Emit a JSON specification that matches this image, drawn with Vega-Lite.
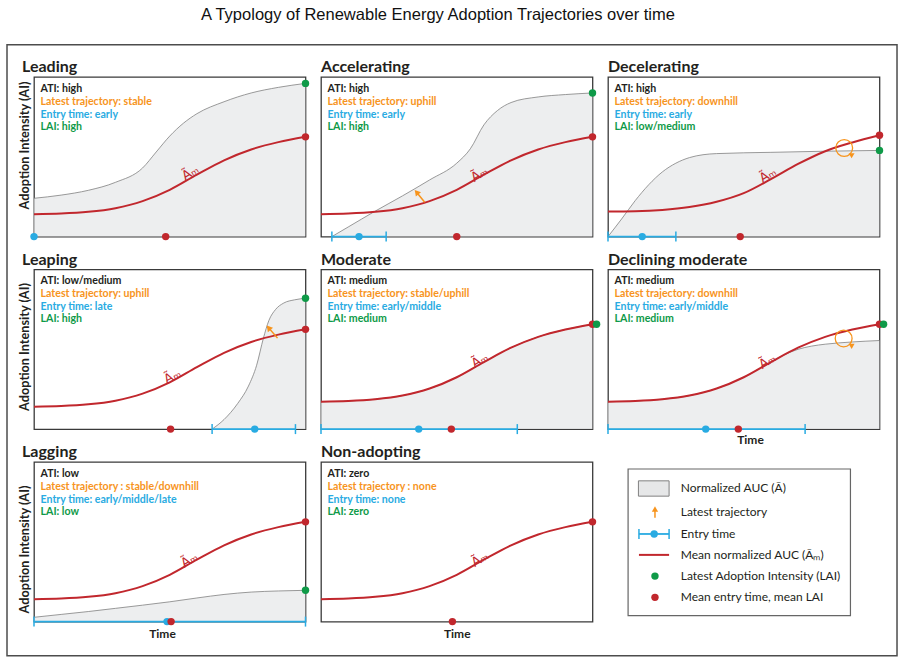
{
"$schema":"https://vega.github.io/schema/vega-lite/v6.json",
"background":"white",
"padding":{"left":6,"top":6,"right":5,"bottom":3},
"title":{"text":"A Typology of Renewable Energy Adoption Trajectories over time","anchor":"middle","font":"Liberation Sans","fontSize":16.5,"fontWeight":"normal","color":"#111111","offset":21,"dx":-14},
"columns":3,
"bounds":"flush",
"spacing":{"row":32.5,"column":15},
"datasets":{
"mean":[
{"p":"LD","x":0,"y":0.14},{"p":"LD","x":0.1,"y":0.144},{"p":"LD","x":0.2,"y":0.155},{"p":"LD","x":0.3,"y":0.178},{"p":"LD","x":0.4,"y":0.222},{"p":"LD","x":0.5,"y":0.293},{"p":"LD","x":0.6,"y":0.388},{"p":"LD","x":0.7,"y":0.478},{"p":"LD","x":0.8,"y":0.546},{"p":"LD","x":0.9,"y":0.592},{"p":"LD","x":1,"y":0.625},
{"p":"AC","x":0,"y":0.14},{"p":"AC","x":0.1,"y":0.144},{"p":"AC","x":0.2,"y":0.155},{"p":"AC","x":0.3,"y":0.178},{"p":"AC","x":0.4,"y":0.222},{"p":"AC","x":0.5,"y":0.293},{"p":"AC","x":0.6,"y":0.388},{"p":"AC","x":0.7,"y":0.478},{"p":"AC","x":0.8,"y":0.546},{"p":"AC","x":0.9,"y":0.592},{"p":"AC","x":1,"y":0.625},
{"p":"DC","x":0,"y":0.157},{"p":"DC","x":0.1,"y":0.159},{"p":"DC","x":0.2,"y":0.167},{"p":"DC","x":0.3,"y":0.185},{"p":"DC","x":0.4,"y":0.218},{"p":"DC","x":0.5,"y":0.272},{"p":"DC","x":0.6,"y":0.36},{"p":"DC","x":0.7,"y":0.455},{"p":"DC","x":0.8,"y":0.535},{"p":"DC","x":0.9,"y":0.59},{"p":"DC","x":1,"y":0.635},
{"p":"LP","x":0,"y":0.14},{"p":"LP","x":0.1,"y":0.144},{"p":"LP","x":0.2,"y":0.155},{"p":"LP","x":0.3,"y":0.178},{"p":"LP","x":0.4,"y":0.222},{"p":"LP","x":0.5,"y":0.293},{"p":"LP","x":0.6,"y":0.388},{"p":"LP","x":0.7,"y":0.478},{"p":"LP","x":0.8,"y":0.546},{"p":"LP","x":0.9,"y":0.592},{"p":"LP","x":1,"y":0.625},
{"p":"MO","x":0,"y":0.172},{"p":"MO","x":0.1,"y":0.176},{"p":"MO","x":0.2,"y":0.187},{"p":"MO","x":0.3,"y":0.21},{"p":"MO","x":0.4,"y":0.254},{"p":"MO","x":0.5,"y":0.325},{"p":"MO","x":0.6,"y":0.42},{"p":"MO","x":0.7,"y":0.51},{"p":"MO","x":0.8,"y":0.578},{"p":"MO","x":0.9,"y":0.624},{"p":"MO","x":1,"y":0.657},
{"p":"DM","x":0,"y":0.172},{"p":"DM","x":0.1,"y":0.176},{"p":"DM","x":0.2,"y":0.187},{"p":"DM","x":0.3,"y":0.21},{"p":"DM","x":0.4,"y":0.254},{"p":"DM","x":0.5,"y":0.325},{"p":"DM","x":0.6,"y":0.42},{"p":"DM","x":0.7,"y":0.51},{"p":"DM","x":0.8,"y":0.578},{"p":"DM","x":0.9,"y":0.624},{"p":"DM","x":1,"y":0.657},
{"p":"LG","x":0,"y":0.14},{"p":"LG","x":0.1,"y":0.144},{"p":"LG","x":0.2,"y":0.155},{"p":"LG","x":0.3,"y":0.178},{"p":"LG","x":0.4,"y":0.222},{"p":"LG","x":0.5,"y":0.293},{"p":"LG","x":0.6,"y":0.388},{"p":"LG","x":0.7,"y":0.478},{"p":"LG","x":0.8,"y":0.546},{"p":"LG","x":0.9,"y":0.592},{"p":"LG","x":1,"y":0.625},
{"p":"NA","x":0,"y":0.14},{"p":"NA","x":0.1,"y":0.144},{"p":"NA","x":0.2,"y":0.155},{"p":"NA","x":0.3,"y":0.178},{"p":"NA","x":0.4,"y":0.222},{"p":"NA","x":0.5,"y":0.293},{"p":"NA","x":0.6,"y":0.388},{"p":"NA","x":0.7,"y":0.478},{"p":"NA","x":0.8,"y":0.546},{"p":"NA","x":0.9,"y":0.592},{"p":"NA","x":1,"y":0.625}
],
"auc":[
{"p":"LD","x":0,"y":0.24},{"p":"LD","x":0.1,"y":0.26},{"p":"LD","x":0.2,"y":0.29},{"p":"LD","x":0.3,"y":0.34},{"p":"LD","x":0.4,"y":0.43},{"p":"LD","x":0.45,"y":0.53},{"p":"LD","x":0.5,"y":0.63},{"p":"LD","x":0.55,"y":0.71},{"p":"LD","x":0.6,"y":0.77},{"p":"LD","x":0.7,"y":0.845},{"p":"LD","x":0.8,"y":0.9},{"p":"LD","x":0.9,"y":0.935},{"p":"LD","x":1,"y":0.96},
{"p":"AC","x":0.04,"y":0},{"p":"AC","x":0.1,"y":0.06},{"p":"AC","x":0.2,"y":0.16},{"p":"AC","x":0.3,"y":0.255},{"p":"AC","x":0.4,"y":0.355},{"p":"AC","x":0.5,"y":0.46},{"p":"AC","x":0.55,"y":0.55},{"p":"AC","x":0.6,"y":0.7},{"p":"AC","x":0.65,"y":0.79},{"p":"AC","x":0.7,"y":0.84},{"p":"AC","x":0.8,"y":0.875},{"p":"AC","x":0.9,"y":0.89},{"p":"AC","x":1,"y":0.9},
{"p":"DC","x":0,"y":0},{"p":"DC","x":0.05,"y":0.11},{"p":"DC","x":0.1,"y":0.225},{"p":"DC","x":0.15,"y":0.325},{"p":"DC","x":0.2,"y":0.405},{"p":"DC","x":0.25,"y":0.46},{"p":"DC","x":0.3,"y":0.495},{"p":"DC","x":0.35,"y":0.513},{"p":"DC","x":0.4,"y":0.52},{"p":"DC","x":0.6,"y":0.528},{"p":"DC","x":0.8,"y":0.535},{"p":"DC","x":1,"y":0.54},
{"p":"LP","x":0.656,"y":0},{"p":"LP","x":0.7,"y":0.06},{"p":"LP","x":0.75,"y":0.16},{"p":"LP","x":0.79,"y":0.27},{"p":"LP","x":0.82,"y":0.4},{"p":"LP","x":0.845,"y":0.57},{"p":"LP","x":0.865,"y":0.68},{"p":"LP","x":0.89,"y":0.75},{"p":"LP","x":0.92,"y":0.79},{"p":"LP","x":0.96,"y":0.81},{"p":"LP","x":1,"y":0.82},
{"p":"MO","x":0,"y":0.172},{"p":"MO","x":0.1,"y":0.176},{"p":"MO","x":0.2,"y":0.187},{"p":"MO","x":0.3,"y":0.21},{"p":"MO","x":0.4,"y":0.254},{"p":"MO","x":0.5,"y":0.325},{"p":"MO","x":0.6,"y":0.42},{"p":"MO","x":0.7,"y":0.51},{"p":"MO","x":0.8,"y":0.578},{"p":"MO","x":0.9,"y":0.624},{"p":"MO","x":1,"y":0.657},
{"p":"DM","x":0,"y":0.172},{"p":"DM","x":0.1,"y":0.176},{"p":"DM","x":0.2,"y":0.187},{"p":"DM","x":0.3,"y":0.21},{"p":"DM","x":0.4,"y":0.254},{"p":"DM","x":0.5,"y":0.325},{"p":"DM","x":0.6,"y":0.42},{"p":"DM","x":0.65,"y":0.466},{"p":"DM","x":0.7,"y":0.5},{"p":"DM","x":0.75,"y":0.52},{"p":"DM","x":0.8,"y":0.532},{"p":"DM","x":0.9,"y":0.546},{"p":"DM","x":1,"y":0.555},
{"p":"LG","x":0,"y":0.027},{"p":"LG","x":0.1,"y":0.045},{"p":"LG","x":0.2,"y":0.063},{"p":"LG","x":0.3,"y":0.083},{"p":"LG","x":0.4,"y":0.103},{"p":"LG","x":0.5,"y":0.124},{"p":"LG","x":0.6,"y":0.148},{"p":"LG","x":0.7,"y":0.17},{"p":"LG","x":0.8,"y":0.185},{"p":"LG","x":0.9,"y":0.192},{"p":"LG","x":1,"y":0.196}
],
"pts":[
{"p":"LD","k":"entry","x":0,"y":0},{"p":"LD","k":"mean","x":0.485,"y":0},{"p":"LD","k":"mean","x":1,"y":0.625},{"p":"LD","k":"LAI","x":1,"y":0.96},
{"p":"AC","k":"entry","x":0.14,"y":0},{"p":"AC","k":"mean","x":0.5,"y":0},{"p":"AC","k":"mean","x":1,"y":0.625},{"p":"AC","k":"LAI","x":1,"y":0.9},
{"p":"DC","k":"entry","x":0.126,"y":0},{"p":"DC","k":"mean","x":0.487,"y":0},{"p":"DC","k":"mean","x":1,"y":0.635},{"p":"DC","k":"LAI","x":1,"y":0.54},
{"p":"LP","k":"entry","x":0.813,"y":0},{"p":"LP","k":"mean","x":0.503,"y":0},{"p":"LP","k":"mean","x":1,"y":0.625},{"p":"LP","k":"LAI","x":1,"y":0.82},
{"p":"MO","k":"entry","x":0.36,"y":0},{"p":"MO","k":"mean","x":0.48,"y":0},{"p":"MO","k":"mean","x":1,"y":0.657},{"p":"MO","k":"LAI","x":1.015,"y":0.657},
{"p":"DM","k":"entry","x":0.36,"y":0},{"p":"DM","k":"mean","x":0.48,"y":0},{"p":"DM","k":"mean","x":1,"y":0.657},{"p":"DM","k":"LAI","x":1.015,"y":0.657},
{"p":"LG","k":"entry","x":0.49,"y":0},{"p":"LG","k":"mean","x":0.505,"y":0},{"p":"LG","k":"mean","x":1,"y":0.625},{"p":"LG","k":"LAI","x":1,"y":0.196},
{"p":"NA","k":"mean","x":0.484,"y":0},{"p":"NA","k":"mean","x":1,"y":0.625}
],
"entry":[
{"p":"AC","x":0.04,"x2":0.24,"y":0},{"p":"DC","x":0,"x2":0.25,"y":0},{"p":"LP","x":0.656,"x2":0.963,"y":0},{"p":"MO","x":0,"x2":0.723,"y":0},{"p":"DM","x":0,"x2":0.726,"y":0},{"p":"LG","x":0,"x2":1,"y":0}
],
"arrows":[{"p":"AC","x":0.382,"y":0.215,"x2":0.352,"y2":0.278},{"p":"LP","x":0.897,"y":0.57,"x2":0.864,"y2":0.635}],
"loops":[{"p":"DC","x":0.87,"y":0.555},{"p":"DM","x":0.868,"y":0.568}],
"heads":[{"p":"DC","x":0.9,"y":0.515},{"p":"DM","x":0.9,"y":0.526}],
"labels":[
{"p":"LD","x":0.576,"y":0.4},{"p":"AC","x":0.583,"y":0.39},{"p":"DC","x":0.589,"y":0.385},{"p":"LP","x":0.51,"y":0.33},{"p":"MO","x":0.585,"y":0.43},{"p":"DM","x":0.587,"y":0.425},{"p":"LG","x":0.572,"y":0.385},{"p":"NA","x":0.585,"y":0.39}
],
"ann":[
{"p":"LD","k":"ATI","t":"ATI: high","x":0.024,"y":0.925},{"p":"LD","k":"traj","t":"Latest trajectory: stable","x":0.024,"y":0.845},{"p":"LD","k":"entry","t":"Entry time: early","x":0.024,"y":0.765},{"p":"LD","k":"LAI","t":"LAI: high","x":0.024,"y":0.687},
{"p":"AC","k":"ATI","t":"ATI: high","x":0.024,"y":0.925},{"p":"AC","k":"traj","t":"Latest trajectory: uphill","x":0.024,"y":0.845},{"p":"AC","k":"entry","t":"Entry time: early","x":0.024,"y":0.765},{"p":"AC","k":"LAI","t":"LAI: high","x":0.024,"y":0.687},
{"p":"DC","k":"ATI","t":"ATI: high","x":0.024,"y":0.925},{"p":"DC","k":"traj","t":"Latest trajectory: downhill","x":0.024,"y":0.845},{"p":"DC","k":"entry","t":"Entry time: early","x":0.024,"y":0.765},{"p":"DC","k":"LAI","t":"LAI: low/medium","x":0.024,"y":0.687},
{"p":"LP","k":"ATI","t":"ATI: low/medium","x":0.024,"y":0.925},{"p":"LP","k":"traj","t":"Latest trajectory: uphill","x":0.024,"y":0.845},{"p":"LP","k":"entry","t":"Entry time: late","x":0.024,"y":0.765},{"p":"LP","k":"LAI","t":"LAI: high","x":0.024,"y":0.687},
{"p":"MO","k":"ATI","t":"ATI: medium","x":0.024,"y":0.925},{"p":"MO","k":"traj","t":"Latest trajectory: stable/uphill","x":0.024,"y":0.845},{"p":"MO","k":"entry","t":"Entry time: early/middle","x":0.024,"y":0.765},{"p":"MO","k":"LAI","t":"LAI: medium","x":0.024,"y":0.687},
{"p":"DM","k":"ATI","t":"ATI: medium","x":0.024,"y":0.925},{"p":"DM","k":"traj","t":"Latest trajectory: downhill","x":0.024,"y":0.845},{"p":"DM","k":"entry","t":"Entry time: early/middle","x":0.024,"y":0.765},{"p":"DM","k":"LAI","t":"LAI: medium","x":0.024,"y":0.687},
{"p":"LG","k":"ATI","t":"ATI: low","x":0.024,"y":0.925},{"p":"LG","k":"traj","t":"Latest trajectory : stable/downhill","x":0.024,"y":0.845},{"p":"LG","k":"entry","t":"Entry time: early/middle/late","x":0.024,"y":0.765},{"p":"LG","k":"LAI","t":"LAI: low","x":0.024,"y":0.687},
{"p":"NA","k":"ATI","t":"ATI: zero","x":0.024,"y":0.925},{"p":"NA","k":"traj","t":"Latest trajectory : none","x":0.024,"y":0.845},{"p":"NA","k":"entry","t":"Entry time: none","x":0.024,"y":0.765},{"p":"NA","k":"LAI","t":"LAI: zero","x":0.024,"y":0.687}
]
},
"config":{
"view":{"stroke":"#3a3a3a","strokeWidth":1.3},
"axis":{"domain":false,"ticks":false,"labels":false,"grid":false,"titleFont":"Lato","titleFontWeight":"bold","titleFontSize":12,"titleColor":"#231f20"},
"axisY":{"titlePadding":3,"titleFontSize":12.7},
"axisX":{"titlePadding":6},
"title":{"anchor":"start","font":"Lato","fontSize":16,"fontWeight":"bold","color":"#231f20","offset":2,"dx":4}
},
"concat":[
{"width":271.5,"height":159.6,"title":"Leading",
"encoding":{"x":{"field":"x","type":"quantitative","scale":{"domain":[0,1]},"axis":null},"y":{"field":"y","type":"quantitative","scale":{"domain":[0,1]},"axis":{"title":"Adoption Intensity (AI)","titleY":68}}},
"layer":[
{"data":{"name":"auc"},"transform":[{"filter":"datum.p=='LD'"}],"mark":{"type":"area","color":"#e6e7e8","interpolate":"monotone","line":{"color":"#808080","strokeWidth":0.8}}},
{"data":{"name":"mean"},"transform":[{"filter":"datum.p=='LD'"}],"mark":{"type":"line","color":"#c1272d","strokeWidth":2,"interpolate":"monotone"}},
{"data":{"name":"pts"},"transform":[{"filter":"datum.p=='LD'"}],"mark":{"type":"circle","size":55,"opacity":1},"encoding":{"color":{"field":"k","type":"nominal","scale":{"domain":["ATI","traj","entry","mean","LAI"],"range":["#231f20","#f7941d","#29abe2","#c1272d","#0f9a48"]},"legend":null}}},
{"data":{"name":"labels"},"transform":[{"filter":"datum.p=='LD'"}],"mark":{"type":"text","text":"Ãₘ","angle":328,"color":"#c1272d","fontSize":13,"font":"DejaVu Sans"}},
{"data":{"name":"ann"},"transform":[{"filter":"datum.p=='LD'"}],"mark":{"type":"text","align":"left","baseline":"middle","font":"Lato","fontWeight":"bold","fontSize":10.6},"encoding":{"text":{"field":"t"},"color":{"field":"k","type":"nominal","scale":{"domain":["ATI","traj","entry","mean","LAI"],"range":["#231f20","#f7941d","#29abe2","#c1272d","#0f9a48"]},"legend":null}}}
]},
{"width":271.5,"height":159.6,"title":"Accelerating",
"encoding":{"x":{"field":"x","type":"quantitative","scale":{"domain":[0,1]},"axis":null},"y":{"field":"y","type":"quantitative","scale":{"domain":[0,1]},"axis":null}},
"layer":[
{"data":{"name":"auc"},"transform":[{"filter":"datum.p=='AC'"}],"mark":{"type":"area","color":"#e6e7e8","interpolate":"monotone","line":{"color":"#808080","strokeWidth":0.8}}},
{"data":{"name":"mean"},"transform":[{"filter":"datum.p=='AC'"}],"mark":{"type":"line","color":"#c1272d","strokeWidth":2,"interpolate":"monotone"}},
{"data":{"name":"entry"},"transform":[{"filter":"datum.p=='AC'"}],"mark":{"type":"rule","color":"#29abe2","strokeWidth":1.8},"encoding":{"x2":{"field":"x2"}}},
{"data":{"name":"entry"},"transform":[{"filter":"datum.p=='AC'"}],"mark":{"type":"tick","orient":"vertical","color":"#29abe2","thickness":1.5,"size":10,"opacity":1}},
{"data":{"name":"entry"},"transform":[{"filter":"datum.p=='AC'"}],"mark":{"type":"tick","orient":"vertical","color":"#29abe2","thickness":1.5,"size":10,"opacity":1},"encoding":{"x":{"field":"x2","type":"quantitative","scale":{"domain":[0,1]},"axis":null}}},
{"data":{"name":"arrows"},"transform":[{"filter":"datum.p=='AC'"}],"mark":{"type":"rule","color":"#f7941d","strokeWidth":1.5},"encoding":{"x2":{"field":"x2"},"y2":{"field":"y2"}}},
{"data":{"name":"arrows"},"transform":[{"filter":"datum.p=='AC'"}],"mark":{"type":"point","shape":"triangle-up","filled":true,"color":"#f7941d","size":45,"angle":320,"opacity":1},"encoding":{"x":{"field":"x2","type":"quantitative","scale":{"domain":[0,1]},"axis":null},"y":{"field":"y2","type":"quantitative","scale":{"domain":[0,1]},"axis":null}}},
{"data":{"name":"pts"},"transform":[{"filter":"datum.p=='AC'"}],"mark":{"type":"circle","size":55,"opacity":1},"encoding":{"color":{"field":"k","type":"nominal","scale":{"domain":["ATI","traj","entry","mean","LAI"],"range":["#231f20","#f7941d","#29abe2","#c1272d","#0f9a48"]},"legend":null}}},
{"data":{"name":"labels"},"transform":[{"filter":"datum.p=='AC'"}],"mark":{"type":"text","text":"Ãₘ","angle":328,"color":"#c1272d","fontSize":13,"font":"DejaVu Sans"}},
{"data":{"name":"ann"},"transform":[{"filter":"datum.p=='AC'"}],"mark":{"type":"text","align":"left","baseline":"middle","font":"Lato","fontWeight":"bold","fontSize":10.6},"encoding":{"text":{"field":"t"},"color":{"field":"k","type":"nominal","scale":{"domain":["ATI","traj","entry","mean","LAI"],"range":["#231f20","#f7941d","#29abe2","#c1272d","#0f9a48"]},"legend":null}}}
]},
{"width":271.5,"height":159.6,"title":"Decelerating",
"encoding":{"x":{"field":"x","type":"quantitative","scale":{"domain":[0,1]},"axis":null},"y":{"field":"y","type":"quantitative","scale":{"domain":[0,1]},"axis":null}},
"layer":[
{"data":{"name":"auc"},"transform":[{"filter":"datum.p=='DC'"}],"mark":{"type":"area","color":"#e6e7e8","interpolate":"monotone","line":{"color":"#808080","strokeWidth":0.8}}},
{"data":{"name":"mean"},"transform":[{"filter":"datum.p=='DC'"}],"mark":{"type":"line","color":"#c1272d","strokeWidth":2,"interpolate":"monotone"}},
{"data":{"name":"entry"},"transform":[{"filter":"datum.p=='DC'"}],"mark":{"type":"rule","color":"#29abe2","strokeWidth":1.8},"encoding":{"x2":{"field":"x2"}}},
{"data":{"name":"entry"},"transform":[{"filter":"datum.p=='DC'"}],"mark":{"type":"tick","orient":"vertical","color":"#29abe2","thickness":1.5,"size":10,"opacity":1}},
{"data":{"name":"entry"},"transform":[{"filter":"datum.p=='DC'"}],"mark":{"type":"tick","orient":"vertical","color":"#29abe2","thickness":1.5,"size":10,"opacity":1},"encoding":{"x":{"field":"x2","type":"quantitative","scale":{"domain":[0,1]},"axis":null}}},
{"data":{"name":"loops"},"transform":[{"filter":"datum.p=='DC'"}],"mark":{"type":"point","shape":"circle","filled":false,"color":"#f7941d","strokeWidth":1.3,"size":283,"opacity":1}},
{"data":{"name":"heads"},"transform":[{"filter":"datum.p=='DC'"}],"mark":{"type":"point","shape":"triangle-right","filled":true,"color":"#f7941d","size":35,"angle":330,"opacity":1}},
{"data":{"name":"pts"},"transform":[{"filter":"datum.p=='DC'"}],"mark":{"type":"circle","size":55,"opacity":1},"encoding":{"color":{"field":"k","type":"nominal","scale":{"domain":["ATI","traj","entry","mean","LAI"],"range":["#231f20","#f7941d","#29abe2","#c1272d","#0f9a48"]},"legend":null}}},
{"data":{"name":"labels"},"transform":[{"filter":"datum.p=='DC'"}],"mark":{"type":"text","text":"Ãₘ","angle":328,"color":"#c1272d","fontSize":13,"font":"DejaVu Sans"}},
{"data":{"name":"ann"},"transform":[{"filter":"datum.p=='DC'"}],"mark":{"type":"text","align":"left","baseline":"middle","font":"Lato","fontWeight":"bold","fontSize":10.6},"encoding":{"text":{"field":"t"},"color":{"field":"k","type":"nominal","scale":{"domain":["ATI","traj","entry","mean","LAI"],"range":["#231f20","#f7941d","#29abe2","#c1272d","#0f9a48"]},"legend":null}}}
]},
{"width":271.5,"height":159.6,"title":"Leaping",
"encoding":{"x":{"field":"x","type":"quantitative","scale":{"domain":[0,1]},"axis":null},"y":{"field":"y","type":"quantitative","scale":{"domain":[0,1]},"axis":{"title":"Adoption Intensity (AI)","titleY":77}}},
"layer":[
{"data":{"name":"auc"},"transform":[{"filter":"datum.p=='LP'"}],"mark":{"type":"area","color":"#e6e7e8","interpolate":"monotone","line":{"color":"#808080","strokeWidth":0.8}}},
{"data":{"name":"mean"},"transform":[{"filter":"datum.p=='LP'"}],"mark":{"type":"line","color":"#c1272d","strokeWidth":2,"interpolate":"monotone"}},
{"data":{"name":"entry"},"transform":[{"filter":"datum.p=='LP'"}],"mark":{"type":"rule","color":"#29abe2","strokeWidth":1.8},"encoding":{"x2":{"field":"x2"}}},
{"data":{"name":"entry"},"transform":[{"filter":"datum.p=='LP'"}],"mark":{"type":"tick","orient":"vertical","color":"#29abe2","thickness":1.5,"size":10,"opacity":1}},
{"data":{"name":"entry"},"transform":[{"filter":"datum.p=='LP'"}],"mark":{"type":"tick","orient":"vertical","color":"#29abe2","thickness":1.5,"size":10,"opacity":1},"encoding":{"x":{"field":"x2","type":"quantitative","scale":{"domain":[0,1]},"axis":null}}},
{"data":{"name":"arrows"},"transform":[{"filter":"datum.p=='LP'"}],"mark":{"type":"rule","color":"#f7941d","strokeWidth":1.5},"encoding":{"x2":{"field":"x2"},"y2":{"field":"y2"}}},
{"data":{"name":"arrows"},"transform":[{"filter":"datum.p=='LP'"}],"mark":{"type":"point","shape":"triangle-up","filled":true,"color":"#f7941d","size":45,"angle":320,"opacity":1},"encoding":{"x":{"field":"x2","type":"quantitative","scale":{"domain":[0,1]},"axis":null},"y":{"field":"y2","type":"quantitative","scale":{"domain":[0,1]},"axis":{"title":"Adoption Intensity (AI)","titleY":77}}}},
{"data":{"name":"pts"},"transform":[{"filter":"datum.p=='LP'"}],"mark":{"type":"circle","size":55,"opacity":1},"encoding":{"color":{"field":"k","type":"nominal","scale":{"domain":["ATI","traj","entry","mean","LAI"],"range":["#231f20","#f7941d","#29abe2","#c1272d","#0f9a48"]},"legend":null}}},
{"data":{"name":"labels"},"transform":[{"filter":"datum.p=='LP'"}],"mark":{"type":"text","text":"Ãₘ","angle":332,"color":"#c1272d","fontSize":13,"font":"DejaVu Sans"}},
{"data":{"name":"ann"},"transform":[{"filter":"datum.p=='LP'"}],"mark":{"type":"text","align":"left","baseline":"middle","font":"Lato","fontWeight":"bold","fontSize":10.6},"encoding":{"text":{"field":"t"},"color":{"field":"k","type":"nominal","scale":{"domain":["ATI","traj","entry","mean","LAI"],"range":["#231f20","#f7941d","#29abe2","#c1272d","#0f9a48"]},"legend":null}}}
]},
{"width":271.5,"height":159.6,"title":"Moderate",
"encoding":{"x":{"field":"x","type":"quantitative","scale":{"domain":[0,1]},"axis":null},"y":{"field":"y","type":"quantitative","scale":{"domain":[0,1]},"axis":null}},
"layer":[
{"data":{"name":"auc"},"transform":[{"filter":"datum.p=='MO'"}],"mark":{"type":"area","color":"#e6e7e8","interpolate":"monotone","line":{"color":"#808080","strokeWidth":0.8}}},
{"data":{"name":"mean"},"transform":[{"filter":"datum.p=='MO'"}],"mark":{"type":"line","color":"#c1272d","strokeWidth":2,"interpolate":"monotone"}},
{"data":{"name":"entry"},"transform":[{"filter":"datum.p=='MO'"}],"mark":{"type":"rule","color":"#29abe2","strokeWidth":1.8},"encoding":{"x2":{"field":"x2"}}},
{"data":{"name":"entry"},"transform":[{"filter":"datum.p=='MO'"}],"mark":{"type":"tick","orient":"vertical","color":"#29abe2","thickness":1.5,"size":10,"opacity":1}},
{"data":{"name":"entry"},"transform":[{"filter":"datum.p=='MO'"}],"mark":{"type":"tick","orient":"vertical","color":"#29abe2","thickness":1.5,"size":10,"opacity":1},"encoding":{"x":{"field":"x2","type":"quantitative","scale":{"domain":[0,1]},"axis":null}}},
{"data":{"name":"pts"},"transform":[{"filter":"datum.p=='MO'"}],"mark":{"type":"circle","size":55,"opacity":1},"encoding":{"color":{"field":"k","type":"nominal","scale":{"domain":["ATI","traj","entry","mean","LAI"],"range":["#231f20","#f7941d","#29abe2","#c1272d","#0f9a48"]},"legend":null}}},
{"data":{"name":"labels"},"transform":[{"filter":"datum.p=='MO'"}],"mark":{"type":"text","text":"Ãₘ","angle":328,"color":"#c1272d","fontSize":13,"font":"DejaVu Sans"}},
{"data":{"name":"ann"},"transform":[{"filter":"datum.p=='MO'"}],"mark":{"type":"text","align":"left","baseline":"middle","font":"Lato","fontWeight":"bold","fontSize":10.6},"encoding":{"text":{"field":"t"},"color":{"field":"k","type":"nominal","scale":{"domain":["ATI","traj","entry","mean","LAI"],"range":["#231f20","#f7941d","#29abe2","#c1272d","#0f9a48"]},"legend":null}}}
]},
{"width":271.5,"height":159.6,"title":"Declining moderate",
"encoding":{"x":{"field":"x","type":"quantitative","scale":{"domain":[0,1]},"axis":{"title":"Time","titlePadding":5,"titleX":142}},"y":{"field":"y","type":"quantitative","scale":{"domain":[0,1]},"axis":null}},
"layer":[
{"data":{"name":"auc"},"transform":[{"filter":"datum.p=='DM'"}],"mark":{"type":"area","color":"#e6e7e8","interpolate":"monotone","line":{"color":"#808080","strokeWidth":0.8}}},
{"data":{"name":"mean"},"transform":[{"filter":"datum.p=='DM'"}],"mark":{"type":"line","color":"#c1272d","strokeWidth":2,"interpolate":"monotone"}},
{"data":{"name":"entry"},"transform":[{"filter":"datum.p=='DM'"}],"mark":{"type":"rule","color":"#29abe2","strokeWidth":1.8},"encoding":{"x2":{"field":"x2"}}},
{"data":{"name":"entry"},"transform":[{"filter":"datum.p=='DM'"}],"mark":{"type":"tick","orient":"vertical","color":"#29abe2","thickness":1.5,"size":10,"opacity":1}},
{"data":{"name":"entry"},"transform":[{"filter":"datum.p=='DM'"}],"mark":{"type":"tick","orient":"vertical","color":"#29abe2","thickness":1.5,"size":10,"opacity":1},"encoding":{"x":{"field":"x2","type":"quantitative","scale":{"domain":[0,1]},"axis":{"title":"Time","titlePadding":5,"titleX":142}}}},
{"data":{"name":"loops"},"transform":[{"filter":"datum.p=='DM'"}],"mark":{"type":"point","shape":"circle","filled":false,"color":"#f7941d","strokeWidth":1.3,"size":283,"opacity":1}},
{"data":{"name":"heads"},"transform":[{"filter":"datum.p=='DM'"}],"mark":{"type":"point","shape":"triangle-right","filled":true,"color":"#f7941d","size":35,"angle":330,"opacity":1}},
{"data":{"name":"pts"},"transform":[{"filter":"datum.p=='DM'"}],"mark":{"type":"circle","size":55,"opacity":1},"encoding":{"color":{"field":"k","type":"nominal","scale":{"domain":["ATI","traj","entry","mean","LAI"],"range":["#231f20","#f7941d","#29abe2","#c1272d","#0f9a48"]},"legend":null}}},
{"data":{"name":"labels"},"transform":[{"filter":"datum.p=='DM'"}],"mark":{"type":"text","text":"Ãₘ","angle":328,"color":"#c1272d","fontSize":13,"font":"DejaVu Sans"}},
{"data":{"name":"ann"},"transform":[{"filter":"datum.p=='DM'"}],"mark":{"type":"text","align":"left","baseline":"middle","font":"Lato","fontWeight":"bold","fontSize":10.6},"encoding":{"text":{"field":"t"},"color":{"field":"k","type":"nominal","scale":{"domain":["ATI","traj","entry","mean","LAI"],"range":["#231f20","#f7941d","#29abe2","#c1272d","#0f9a48"]},"legend":null}}}
]},
{"width":271.5,"height":159.6,"title":"Lagging",
"encoding":{"x":{"field":"x","type":"quantitative","scale":{"domain":[0,1]},"axis":{"title":"Time","titlePadding":7,"titleX":128}},"y":{"field":"y","type":"quantitative","scale":{"domain":[0,1]},"axis":{"title":"Adoption Intensity (AI)","titleY":87}}},
"layer":[
{"data":{"name":"auc"},"transform":[{"filter":"datum.p=='LG'"}],"mark":{"type":"area","color":"#e6e7e8","interpolate":"monotone","line":{"color":"#808080","strokeWidth":0.8}}},
{"data":{"name":"mean"},"transform":[{"filter":"datum.p=='LG'"}],"mark":{"type":"line","color":"#c1272d","strokeWidth":2,"interpolate":"monotone"}},
{"data":{"name":"entry"},"transform":[{"filter":"datum.p=='LG'"}],"mark":{"type":"rule","color":"#29abe2","strokeWidth":1.8},"encoding":{"x2":{"field":"x2"}}},
{"data":{"name":"entry"},"transform":[{"filter":"datum.p=='LG'"}],"mark":{"type":"tick","orient":"vertical","color":"#29abe2","thickness":1.5,"size":10,"opacity":1}},
{"data":{"name":"entry"},"transform":[{"filter":"datum.p=='LG'"}],"mark":{"type":"tick","orient":"vertical","color":"#29abe2","thickness":1.5,"size":10,"opacity":1},"encoding":{"x":{"field":"x2","type":"quantitative","scale":{"domain":[0,1]},"axis":{"title":"Time","titlePadding":7,"titleX":128}}}},
{"data":{"name":"pts"},"transform":[{"filter":"datum.p=='LG'"}],"mark":{"type":"circle","size":55,"opacity":1},"encoding":{"color":{"field":"k","type":"nominal","scale":{"domain":["ATI","traj","entry","mean","LAI"],"range":["#231f20","#f7941d","#29abe2","#c1272d","#0f9a48"]},"legend":null}}},
{"data":{"name":"labels"},"transform":[{"filter":"datum.p=='LG'"}],"mark":{"type":"text","text":"Ãₘ","angle":328,"color":"#c1272d","fontSize":13,"font":"DejaVu Sans"}},
{"data":{"name":"ann"},"transform":[{"filter":"datum.p=='LG'"}],"mark":{"type":"text","align":"left","baseline":"middle","font":"Lato","fontWeight":"bold","fontSize":10.6},"encoding":{"text":{"field":"t"},"color":{"field":"k","type":"nominal","scale":{"domain":["ATI","traj","entry","mean","LAI"],"range":["#231f20","#f7941d","#29abe2","#c1272d","#0f9a48"]},"legend":null}}}
]},
{"width":271.5,"height":159.6,"title":"Non-adopting",
"encoding":{"x":{"field":"x","type":"quantitative","scale":{"domain":[0,1]},"axis":{"title":"Time","titlePadding":7}},"y":{"field":"y","type":"quantitative","scale":{"domain":[0,1]},"axis":null}},
"layer":[
{"data":{"name":"mean"},"transform":[{"filter":"datum.p=='NA'"}],"mark":{"type":"line","color":"#c1272d","strokeWidth":2,"interpolate":"monotone"}},
{"data":{"name":"pts"},"transform":[{"filter":"datum.p=='NA'"}],"mark":{"type":"circle","size":55,"opacity":1},"encoding":{"color":{"field":"k","type":"nominal","scale":{"domain":["ATI","traj","entry","mean","LAI"],"range":["#231f20","#f7941d","#29abe2","#c1272d","#0f9a48"]},"legend":null}}},
{"data":{"name":"labels"},"transform":[{"filter":"datum.p=='NA'"}],"mark":{"type":"text","text":"Ãₘ","angle":328,"color":"#c1272d","fontSize":13,"font":"DejaVu Sans"}},
{"data":{"name":"ann"},"transform":[{"filter":"datum.p=='NA'"}],"mark":{"type":"text","align":"left","baseline":"middle","font":"Lato","fontWeight":"bold","fontSize":10.6},"encoding":{"text":{"field":"t"},"color":{"field":"k","type":"nominal","scale":{"domain":["ATI","traj","entry","mean","LAI"],"range":["#231f20","#f7941d","#29abe2","#c1272d","#0f9a48"]},"legend":null}}}
]},
{"width":271.5,"height":159.6,"view":{"stroke":null},
"encoding":{"x":{"field":"x","type":"quantitative","scale":{"domain":[0,1]},"axis":null},"y":{"field":"y","type":"quantitative","scale":{"domain":[0,1]},"axis":null}},
"layer":[
{"data":{"values":[{"x":-2.2136,"x2":1.0645,"y":-0.214,"y2":3.614}]},"mark":{"type":"rect","fill":"transparent","stroke":"#4d4d4d","strokeWidth":1.5},"encoding":{"x2":{"field":"x2"},"y2":{"field":"y2"}}},
{"data":{"values":[{"x":0.074,"x2":0.893,"y":0.038,"y2":0.956}]},"mark":{"type":"rect","fill":"white","stroke":"#666666","strokeWidth":1.2},"encoding":{"x2":{"field":"x2"},"y2":{"field":"y2"}}},
{"data":{"values":[{"x":0.112,"x2":0.225,"y":0.786,"y2":0.882}]},"mark":{"type":"rect","fill":"#e6e7e8","stroke":"#808080","strokeWidth":1},"encoding":{"x2":{"field":"x2"},"y2":{"field":"y2"}}},
{"data":{"values":[{"x":0.173,"x2":0.173,"y":0.65,"y2":0.7}]},"mark":{"type":"rule","color":"#f7941d","strokeWidth":1.5},"encoding":{"x2":{"field":"x2"},"y2":{"field":"y2"}}},
{"data":{"values":[{"x":0.173,"y":0.705}]},"mark":{"type":"point","shape":"triangle-up","filled":true,"color":"#f7941d","size":40,"opacity":1}},
{"data":{"values":[{"x":0.114,"x2":0.225,"y":0.549}]},"mark":{"type":"rule","color":"#29abe2","strokeWidth":1.8},"encoding":{"x2":{"field":"x2"}}},
{"data":{"values":[{"x":0.114,"y":0.549},{"x":0.225,"y":0.549}]},"mark":{"type":"tick","orient":"vertical","color":"#29abe2","thickness":1.5,"size":10,"opacity":1}},
{"data":{"values":[{"x":0.114,"x2":0.225,"y":0.418}]},"mark":{"type":"rule","color":"#c1272d","strokeWidth":2},"encoding":{"x2":{"field":"x2"}}},
{"data":{"values":[{"k":"entry","x":0.17,"y":0.549},{"k":"LAI","x":0.173,"y":0.285},{"k":"mean","x":0.173,"y":0.152}]},"mark":{"type":"circle","size":55,"opacity":1},"encoding":{"color":{"field":"k","type":"nominal","scale":{"domain":["ATI","traj","entry","mean","LAI"],"range":["#231f20","#f7941d","#29abe2","#c1272d","#0f9a48"]},"legend":null}}},
{"data":{"values":[{"x":0.268,"y":0.834,"t":"Normalized AUC (Ã)"},{"x":0.268,"y":0.686,"t":"Latest trajectory"},{"x":0.268,"y":0.549,"t":"Entry time"},{"x":0.268,"y":0.418,"t":"Mean normalized AUC (Ãₘ)"},{"x":0.268,"y":0.285,"t":"Latest Adoption Intensity (LAI)"},{"x":0.268,"y":0.152,"t":"Mean entry time, mean LAI"}]},"mark":{"type":"text","align":"left","baseline":"middle","font":"Lato","fontSize":12,"color":"#231f20"},"encoding":{"text":{"field":"t"}}}
]}
]
}
